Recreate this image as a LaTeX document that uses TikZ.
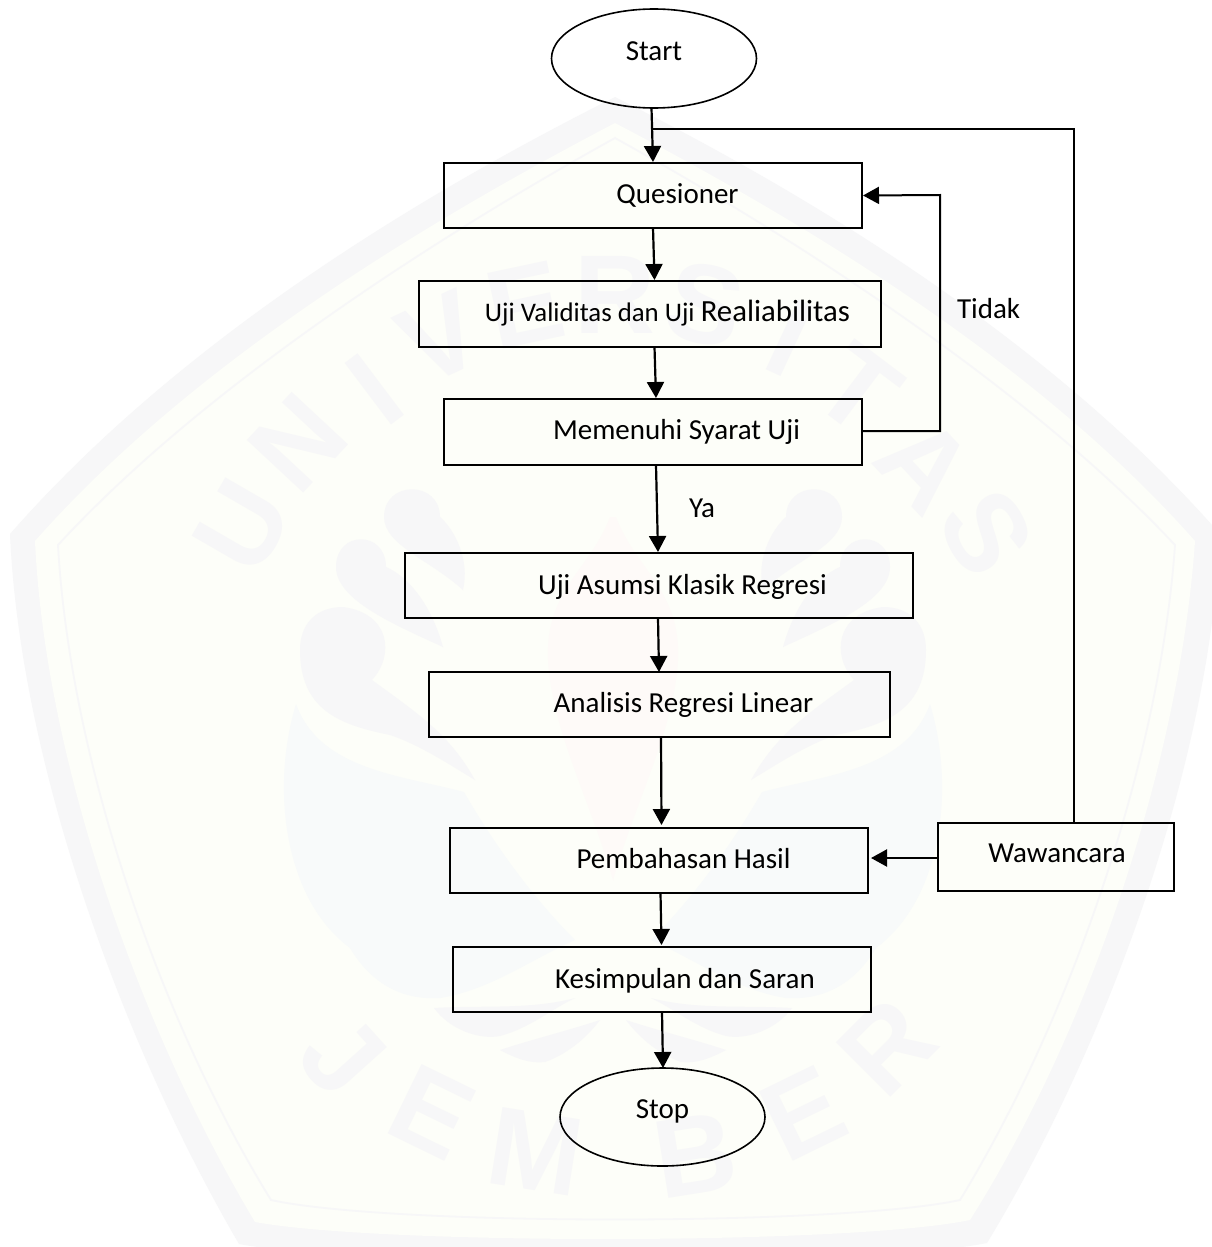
\documentclass[tikz,border=0pt]{standalone}
\usepackage{fontspec}
\setmainfont{Carlito}
\newfontfamily\wmfont{Liberation Sans}[BoldFont={Liberation Sans Bold}]
\usetikzlibrary{arrows.meta,shapes.geometric}
\definecolor{wmband}{HTML}{F7F7F8}
\definecolor{wmcream}{HTML}{FDFEF9}
\definecolor{wmleaf}{HTML}{F8FAFA}
\definecolor{wmflame}{HTML}{FEFAF8}
\tikzset{
  stepbox/.style={draw=black,line width=1.9pt,rectangle,inner sep=0pt,outer sep=0pt,font=\fontsize{29}{32}\selectfont},
  termnode/.style={draw=black,line width=1.6pt,ellipse,inner sep=0pt,outer sep=0pt,font=\fontsize{29}{32}\selectfont},
  flowtext/.style={inner sep=0pt,outer sep=0pt,font=\fontsize{29}{32}\selectfont},
  flowarrow/.style={line width=2.2pt,-{Triangle[length=16pt,width=17pt]}},
  wmletter/.style={inner sep=0pt,text=wmband,font=\wmfont\bfseries\fontsize{112}{112}\selectfont},
}
\newcommand{\bt}[3]{\raisebox{#2pt}[0pt][0pt]{\hspace*{#1pt}#3}}
\newcommand{\halfmark}{%
  \fill[wmleaf] (296,704) .. controls (270,790) and (285,900) .. (350,948) .. controls (375,990) and (410,1000) .. (440,998) .. controls (490,990) and (530,960) .. (575,940) .. controls (520,885) and (480,820) .. (464,792) .. controls (400,775) and (320,770) .. (296,704) -- cycle;
  \fill[wmband] (434,1008) .. controls (450,1030) and (480,1040) .. (500,1036) .. controls (530,1028) and (550,1010) .. (575,998) .. controls (530,1010) and (480,1005) .. cycle;
  \fill[wmband] (500,1050) .. controls (515,1058) and (530,1064) .. (545,1062) .. controls (565,1055) and (585,1040) .. (600,1020) .. controls (570,1030) and (530,1040) .. cycle;
  \fill[wmband] (300,650) .. controls (300,710) and (340,725) .. (390,735) .. controls (420,745) and (450,765) .. (475,780) .. controls (450,735) and (420,715) .. (372,680) .. controls (395,655) and (390,613) .. (343,607) .. controls (315,607) and (300,625) .. (300,650) -- cycle;
  \fill[wmband] (336,567) .. controls (336,600) and (395,625) .. (443,647) .. controls (430,600) and (405,575) .. (386,567) .. controls (386,530) and (336,530) .. (336,567) -- cycle;
  \fill[wmband] (384,517) .. controls (384,545) and (430,560) .. (463,590) .. controls (470,560) and (455,530) .. (440,517) .. controls (440,480) and (384,480) .. (384,517) -- cycle;
  \fill[wmflame] (610,517) .. controls (590,570) and (545,590) .. (548,660) .. controls (552,730) and (590,800) .. (613,880) -- (613,517) -- cycle;
}
\begin{document}
\begin{tikzpicture}[x=1pt,y=-1pt]
\useasboundingbox (0,0) rectangle (1212,1247);
\fill[white] (0,0) rectangle (1212,1247);
% watermark
\begin{scope}
\clip (0,0) rectangle (1212,1247);
\fill[wmband] (10,534) .. controls (180,340) and (420,195) .. (615,97) .. controls (810,195) and (1050,340) .. (1220,534) .. controls (1210,760) and (1110,1040) .. (987,1243) .. controls (860,1268) and (370,1268) .. (239,1244) .. controls (120,1040) and (20,760) .. (10,534) -- cycle;
\fill[wmcream] (35,541) .. controls (195,360) and (430,220) .. (615,123) .. controls (800,220) and (1035,360) .. (1195,541) .. controls (1180,760) and (1090,1030) .. (970,1220) .. controls (850,1245) and (380,1245) .. (255,1222) .. controls (140,1030) and (45,760) .. (35,541) -- cycle;
\draw[wmband,line width=1.8pt] (58,545) .. controls (205,385) and (440,235) .. (615,138) .. controls (790,235) and (1025,385) .. (1175,545) .. controls (1160,760) and (1070,1020) .. (960,1200) .. controls (840,1226) and (390,1226) .. (271,1200) .. controls (160,1020) and (70,760) .. (58,545) -- cycle;
\halfmark
\begin{scope}[xshift=1226pt,xscale=-1]\halfmark\end{scope}
\node[wmletter,rotate=60] (wu) at (243,526) {U};
\node[wmletter,rotate=47] (wn) at (298,443) {N};
\node[wmletter,rotate=37] (wi) at (375,389) {I};
\node[wmletter,rotate=25] (wv) at (440,338) {V};
\node[wmletter,rotate=12] (we) at (525,305) {E};
\node[wmletter,rotate=0] (wr) at (615,295) {R};
\node[wmletter,rotate=-12] (ws) at (705,305) {S};
\node[wmletter,rotate=-25] (wi2) at (790,338) {I};
\node[wmletter,rotate=-37] (wt) at (858,389) {T};
\node[wmletter,rotate=-47] (wa) at (925,465) {A};
\node[wmletter,rotate=-60] (ws2) at (987,533) {S};
\node[wmletter,rotate=-48] (jj) at (343,1056) {J};
\node[wmletter,rotate=-26] (je) at (432,1112) {E};
\node[wmletter,rotate=-9] (jm) at (536,1152) {M};
\node[wmletter,rotate=9] (jb) at (695,1155) {B};
\node[wmletter,rotate=26] (je2) at (803,1113) {E};
\node[wmletter,rotate=45] (jr) at (887,1047) {R};
\end{scope}
% nodes
\node[termnode,minimum width=205pt,minimum height=99pt] (start) at (654,58.5) {\bt{0}{-2.5}{Start}};
\node[stepbox,minimum width=418pt,minimum height=65pt] (ques) at (653,195.5) {\bt{49}{-8}{Quesioner}};
\node[stepbox,minimum width=462pt,minimum height=66pt] (uji) at (650,314) {\bt{35}{-7}{{\fontsize{26.8}{30}\selectfont Uji Validitas dan Uji }{\fontsize{30.8}{32}\selectfont Realiabilitas}}};
\node[stepbox,minimum width=418pt,minimum height=66pt] (syarat) at (653,432) {\bt{47}{-7}{Memenuhi Syarat Uji}};
\node[stepbox,minimum width=508pt,minimum height=65pt] (asumsi) at (659,585.5) {\bt{47}{-9}{Uji Asumsi Klasik Regresi}};
\node[stepbox,minimum width=461pt,minimum height=65pt] (linear) at (659.5,704.5) {\bt{48}{-7.5}{Analisis Regresi Linear}};
\node[stepbox,minimum width=418pt,minimum height=65pt] (bahas) at (659,860.5) {\bt{49}{-8}{Pembahasan Hasil}};
\node[stepbox,minimum width=418pt,minimum height=65pt] (saran) at (662,979.5) {\bt{46}{-8.5}{Kesimpulan dan Saran}};
\node[stepbox,minimum width=236pt,minimum height=68pt] (wawan) at (1056,857) {\bt{2}{-5.7}{Wawancara}};
\node[termnode,minimum width=205pt,minimum height=98pt] (stop) at (662.5,1117) {\bt{0}{-1}{Stop}};
\node[flowtext,anchor=base west] (tidak) at (957,318) {Tidak};
\node[flowtext,anchor=base west] (ya) at (689,517) {Ya};
% connectors
\coordinate (join) at (652,129);
\coordinate (fbq) at (940,195);
\coordinate (fbs) at (940,431);
\coordinate (fbw) at (1074,129);
\draw[flowarrow] ([xshift=-2.5pt]start.south) -- ([yshift=1pt]ques.north);
\draw[flowarrow] (ques.south) -- ([xshift=1.5pt,yshift=1pt]ques.south |- uji.north);
\draw[flowarrow] ([xshift=4.5pt]uji.south) -- ([xshift=3pt,yshift=1pt]syarat.north);
\draw[flowarrow] ([xshift=3pt]syarat.south) -- ([xshift=-1pt,yshift=1pt]asumsi.north);
\draw[flowarrow] ([xshift=-1pt]asumsi.south) -- ([yshift=0pt]asumsi.south |- linear.north);
\draw[flowarrow] ([xshift=1.5pt]linear.south) -- ([xshift=2.5pt,yshift=3pt]bahas.north);
\draw[flowarrow] ([xshift=1.5pt]bahas.south) -- ([xshift=-0.5pt,yshift=2pt]saran.north);
\draw[flowarrow] (saran.south) -- ([xshift=0.5pt]stop.north);
\draw[flowarrow] (wawan.west |- bahas.east) ++(0,-2.5) -- ([xshift=3pt,yshift=2.5pt]bahas.east);
\draw[line width=2pt,-{Triangle[length=16pt,width=17pt]}] (syarat.east |- fbs) -- (fbs) -- (fbq) -- ([xshift=1pt]ques.east);
\draw[line width=1.9pt,line join=miter] (wawan.north -| fbw) -- (fbw) -- (join);
\end{tikzpicture}
\end{document}
